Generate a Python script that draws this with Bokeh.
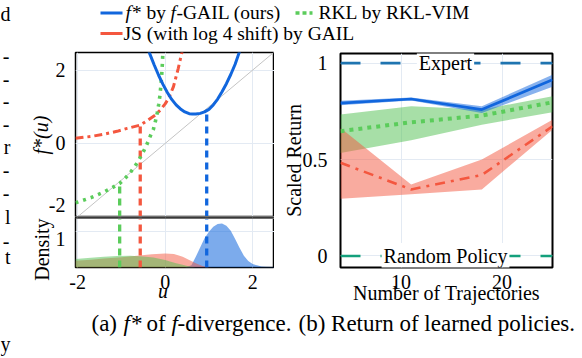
import numpy as np
from bokeh.plotting import figure
from bokeh.models import Range1d, FixedTicker, Label, Span, Title
from bokeh.layouts import column, row
from bokeh.embed import file_html
from bokeh.resources import INLINE

FONT = "Liberation Serif"
BLUE = "#1166dd"
GREEN = "#5bcc5b"
RED = "#f4573f"
GRID = "#e3eaf3"

# ---------------- data: (a) conjugate functions ----------------
u_fgail = [-0.40, -0.36, -0.25, -0.15, -0.05, 0.05, 0.15, 0.25, 0.35, 0.45, 0.55, 0.62,
           0.70, 0.80, 0.90, 1.00, 1.10, 1.20, 1.30, 1.40, 1.50, 1.60, 1.69, 1.73]
f_fgail = [2.62, 2.47, 2.14, 1.86, 1.61, 1.39, 1.20, 1.05, 0.94, 0.86, 0.81, 0.80,
           0.80, 0.82, 0.86, 0.93, 1.05, 1.21, 1.41, 1.63, 1.88, 2.16, 2.47, 2.60]
u_js = [-2.05, -1.7, -1.41, -1.1, -0.87, -0.57, -0.4, -0.23, -0.11, 0.0, 0.08, 0.19, 0.3, 0.38, 0.42]
f_js = [0.14, 0.19, 0.25, 0.33, 0.41, 0.50, 0.63, 0.77, 0.91, 1.08, 1.23, 1.55, 2.05, 2.47, 2.7]
u_rkl = [-2.05, -1.7, -1.41, -1.2, -1.04, -0.9, -0.8, -0.65, -0.53, -0.43, -0.34, -0.27,
         -0.22, -0.18, -0.15, -0.12, -0.10, -0.08, -0.06, -0.05]
f_rkl = [-1.62, -1.48, -1.33, -1.2, -1.09, -0.93, -0.80, -0.55, -0.30, -0.06, 0.20, 0.38,
         0.62, 0.84, 1.05, 1.30, 1.55, 1.85, 2.25, 2.6]
diag_u = [-2.02, 2.6]

# discriminator-output locations (vertical dashed markers) and f* there
mark_u = [-1.04, -0.57, 0.95]
mark_f = [-1.09, 0.50, 0.88]
mark_col = [GREEN, RED, BLUE]

# densities
dens_u_fgail = [0.45, 0.6, 0.7, 0.8, 0.9, 1.0, 1.1, 1.2, 1.3, 1.4, 1.5, 1.6, 1.7, 1.8, 1.9, 2.0, 2.1, 2.2, 2.3, 2.5]
dens_fgail = [0.0, 0.06, 0.3, 0.56, 0.82, 1.0, 1.14, 1.22, 1.23, 1.17, 1.03, 0.8, 0.55, 0.33, 0.18, 0.1, 0.06, 0.03, 0.02, 0.01]
dens_u_js = [-2.05, -1.7, -1.4, -1.0, -0.65, -0.3, 0.0, 0.2, 0.4, 0.55, 0.7, 0.85, 1.0, 1.1]
dens_js = [0.19, 0.22, 0.25, 0.29, 0.33, 0.37, 0.39, 0.38, 0.30, 0.21, 0.12, 0.04, 0.01, 0.0]
dens_u_rkl = [-2.05, -1.7, -1.4, -1.1, -0.8, -0.5, -0.27, 0.0, 0.11, 0.25, 0.42, 0.55, 0.7]
dens_rkl = [0.24, 0.27, 0.30, 0.32, 0.33, 0.31, 0.28, 0.21, 0.17, 0.12, 0.07, 0.03, 0.0]

u_ticks = [-2, 0, 2]
f_grid = [-2, 0, 2]
f_ticks = [-1.68, 0, 2]          # the "-2" label sits just above the panel edge
f_labels = {-1.68: "-2", 0: "0", 2: "2"}
dens_grid = [1]
dens_ticks = [0.81]
dens_labels = {0.81: "1"}

# ---------------- data: (b) scaled return ----------------
n_traj = [4, 11, 18, 25]
fgail_mean = [0.793, 0.814, 0.759, 0.914]
fgail_lo = [0.781, 0.806, 0.741, 0.878]
fgail_hi = [0.805, 0.822, 0.776, 0.940]
rkl_mean = [0.647, 0.693, 0.728, 0.797]
rkl_lo = [0.534, 0.600, 0.681, 0.745]
rkl_hi = [0.733, 0.776, 0.759, 0.828]
gail_mean = [0.483, 0.345, 0.420, 0.672]
gail_lo = [0.296, 0.320, 0.345, 0.655]
gail_hi = [0.664, 0.370, 0.500, 0.707]
expert_level = 1.0
random_level = 0.0
traj_ticks = [10, 20]
ret_ticks = [0, 0.5, 1]

# clipped line-ends of the neighbouring text column (left page edge)
edge_top = [("d", 13)]
edge_mid = [("-", 47), ("-", 76), ("-", 104), ("-", 132), ("r", 161), ("-", 190),
            ("-", 219), ("l", 249), ("-", 279), ("t", 299)]
edge_bot = [("y", 343)]

W = 580
WF = 14
WL = 274 - WF


def style_axes(p):
    for ax in p.axis:
        ax.axis_line_color = None
        ax.major_tick_line_color = None
        ax.minor_tick_line_color = None
        ax.major_label_text_font = FONT
        ax.major_label_text_font_size = "20px"
        ax.major_label_text_color = "black"
        ax.axis_label_text_font = FONT
        ax.axis_label_text_font_size = "20px"
        ax.axis_label_text_font_style = "normal"
        ax.axis_label_text_color = "black"


def txt(p, x, y, s, size="20px", style="normal", align="left", angle=0.0, **kw):
    p.add_layout(Label(x=x, y=y, text=s, text_font=FONT, text_font_size=size,
                       text_font_style=style, text_align=align, text_baseline="middle",
                       text_color="black", angle=angle, **kw))


def blank(width, height, y0, y1, x0=0):
    f = figure(width=width, height=height, x_range=Range1d(x0, x0 + width), y_range=Range1d(y1, y0),
               x_axis_location=None, y_axis_location=None, min_border=0,
               toolbar_location=None, output_backend="svg")
    f.grid.visible = False
    f.outline_line_color = None
    return f


# ---------------- legend strip ----------------
leg = blank(W, 44, 0, 44)
leg.line([100, 122], [12.5, 12.5], color=BLUE, line_width=3)
leg.line([295, 312], [12.5, 12.5], color=GREEN, line_width=3.5, line_dash="4 3")
leg.line([100, 122], [33, 33], color=RED, line_width=3)
LS = "19.5px"
txt(leg, 125, 12, "f*", LS, "italic")
txt(leg, 146, 12, "by", LS)
txt(leg, 170, 12, "f", LS, "italic")
txt(leg, 176, 12, "-GAIL (ours)", LS)
txt(leg, 318, 12, "RKL by RKL-VIM", LS)
txt(leg, 123, 33, "JS (with log 4 shift) by GAIL", LS)
for s, y in edge_top:
    txt(leg, 10, y, s, "20px", align="right")

# ---------------- left page-edge fragments ----------------
frag = blank(WF, 268, 44, 312)
for s, y in edge_mid:
    txt(frag, 10 if s != "-" else 9, y, s, "20px", align="right")

# ---------------- (a) upper: f* curves ----------------
XR = Range1d(-2.05, 2.5)
MBL = 75 - WF
pa = figure(width=WL, height=173, x_range=XR, y_range=Range1d(-2.02, 2.48),
            x_axis_location=None,
            min_border_left=MBL, min_border_right=0, min_border_top=8, min_border_bottom=0,
            toolbar_location=None, output_backend="svg")
style_axes(pa)
pa.yaxis.ticker = FixedTicker(ticks=f_ticks)
pa.yaxis.major_label_overrides = f_labels
pa.yaxis.major_label_standoff = 4
pa.yaxis.axis_label = "f*(u)"
pa.yaxis.axis_label_text_font_style = "italic"
pa.yaxis.axis_label_standoff = -6
pa.xgrid.ticker = FixedTicker(ticks=u_ticks)
pa.ygrid.ticker = FixedTicker(ticks=f_grid)
pa.grid.grid_line_color = GRID
pa.outline_line_color = "black"
pa.outline_line_width = 1.5

pa.line(diag_u, diag_u, line_color="#c4c4c4", line_width=1)
pa.segment(x0=mark_u, y0=[-2.02] * 3, x1=mark_u, y1=mark_f, line_color=mark_col,
           line_width=3.3, line_dash="7 5")
pa.line(u_js, f_js, line_color=RED, line_width=3, line_dash="8 4 3 4")
pa.line(u_rkl, f_rkl, line_color=GREEN, line_width=3.6, line_dash="3 5")
pa.line(u_fgail, f_fgail, line_color=BLUE, line_width=3)
pa.add_layout(Span(location=-2.02, dimension="width", line_color="#707070",
                   line_width=3, level="overlay"))

# ---------------- (a) lower: densities ----------------
DEND = 1.40
pb = figure(width=WL, height=95, x_range=XR, y_range=Range1d(0, DEND),
            min_border_left=MBL, min_border_right=0, min_border_top=0, min_border_bottom=45,
            toolbar_location=None, output_backend="svg")
style_axes(pb)
pb.xaxis.ticker = FixedTicker(ticks=u_ticks)
pb.xaxis.major_label_overrides = {-2: "-2", 0: "0", 2: "2"}
pb.xaxis.major_label_standoff = 1
pb.xaxis.axis_label = "u\u2003\u2009"
pb.xaxis.axis_label_text_font_style = "italic"
pb.xaxis.axis_label_standoff = -12
pb.yaxis.ticker = FixedTicker(ticks=dens_ticks)
pb.yaxis.major_label_overrides = dens_labels
pb.yaxis.major_label_standoff = 4
pb.add_layout(Title(text="Density", align="right", offset=1, standoff=0,
                    text_font=FONT, text_font_size="20px", text_font_style="normal",
                    text_color="black"), "left")
pb.xgrid.ticker = FixedTicker(ticks=u_ticks)
pb.ygrid.ticker = FixedTicker(ticks=dens_grid)
pb.grid.grid_line_color = GRID
pb.outline_line_color = "black"
pb.outline_line_width = 1.5

pb.varea(x=dens_u_fgail, y1=0, y2=dens_fgail, fill_color=BLUE, fill_alpha=0.55)
pb.varea(x=dens_u_js, y1=0, y2=dens_js, fill_color=RED, fill_alpha=0.5)
pb.varea(x=dens_u_rkl, y1=0, y2=dens_rkl, fill_color="#4fbf4f", fill_alpha=0.5)
pb.segment(x0=mark_u, y0=[0] * 3, x1=mark_u, y1=[DEND] * 3, line_color=mark_col,
           line_width=3.3, line_dash="7 5")
pb.add_layout(Span(location=DEND, dimension="width", line_color="#707070",
                   line_width=3, level="overlay"))

# ---------------- (b) right panel ----------------
pr = figure(width=W - WL - WF, height=268, x_range=Range1d(4, 25), y_range=Range1d(-0.06, 1.05),
            min_border_left=66, min_border_right=28, min_border_top=9, min_border_bottom=45,
            toolbar_location=None, output_backend="svg")
style_axes(pr)
pr.xaxis.ticker = FixedTicker(ticks=traj_ticks)
pr.yaxis.ticker = FixedTicker(ticks=ret_ticks)
pr.yaxis.major_label_overrides = {0: "0", 0.5: "0.5", 1: "1"}
pr.xaxis.major_label_standoff = 1
pr.yaxis.major_label_standoff = 7
pr.xaxis.axis_label = "Number of Trajectories"
pr.xaxis.axis_label_standoff = -10
pr.yaxis.axis_label = "Scaled Return"
pr.yaxis.axis_label_standoff = -5
pr.xgrid.ticker = FixedTicker(ticks=traj_ticks)
pr.ygrid.ticker = FixedTicker(ticks=ret_ticks)
pr.grid.grid_line_color = GRID
pr.outline_line_color = "black"
pr.outline_line_width = 2

pr.varea(x=n_traj, y1=rkl_lo, y2=rkl_hi, fill_color="#4fbf4f", fill_alpha=0.5)
pr.varea(x=n_traj, y1=gail_lo, y2=gail_hi, fill_color=RED, fill_alpha=0.5)
pr.varea(x=n_traj, y1=fgail_lo, y2=fgail_hi, fill_color=BLUE, fill_alpha=0.5)
pr.line(n_traj, gail_mean, line_color=RED, line_width=2.6, line_dash="10 6 3 6")
pr.line(n_traj, rkl_mean, line_color=GREEN, line_width=4, line_dash="4 5")
pr.line(n_traj, fgail_mean, line_color=BLUE, line_width=2.7)

pr.add_layout(Span(location=expert_level, dimension="width", line_color="#1f74b0",
                   line_width=2.6, line_dash="20 20"))
pr.add_layout(Span(location=random_level, dimension="width", line_color="#14a07c",
                   line_width=2.6, line_dash="20 20"))
label_x = 4 + (445 - 340) / (212 / 21)
pr.add_layout(Label(x=label_x, y=expert_level, text="Expert", text_font=FONT, text_font_size="20px",
                    text_align="center", text_baseline="middle", text_color="black",
                    background_fill_color="white", padding=2))
pr.add_layout(Label(x=label_x, y=random_level, text="Random Policy", text_font=FONT,
                    text_font_size="20px", text_align="center", text_baseline="middle",
                    text_color="black", background_fill_color="white", padding=2))

# ---------------- caption ----------------
cap = blank(W, 44, 312, 356)
CS = "23px"
txt(cap, 91, 323, "(a)", CS)
txt(cap, 123, 323, "f*", CS, "italic")
txt(cap, 146, 323, "of", CS)
txt(cap, 171, 323, "f", CS, "italic")
txt(cap, 177, 323, "-divergence.", CS)
txt(cap, 298, 323, "(b) Return of learned policies.", CS)
for s, y in edge_bot:
    txt(cap, 10, y, s, "20px", align="right")

root = column(leg, row(frag, column(pa, pb), pr), cap)
open("out.html", "w").write(file_html(root, INLINE, "f-GAIL"))
